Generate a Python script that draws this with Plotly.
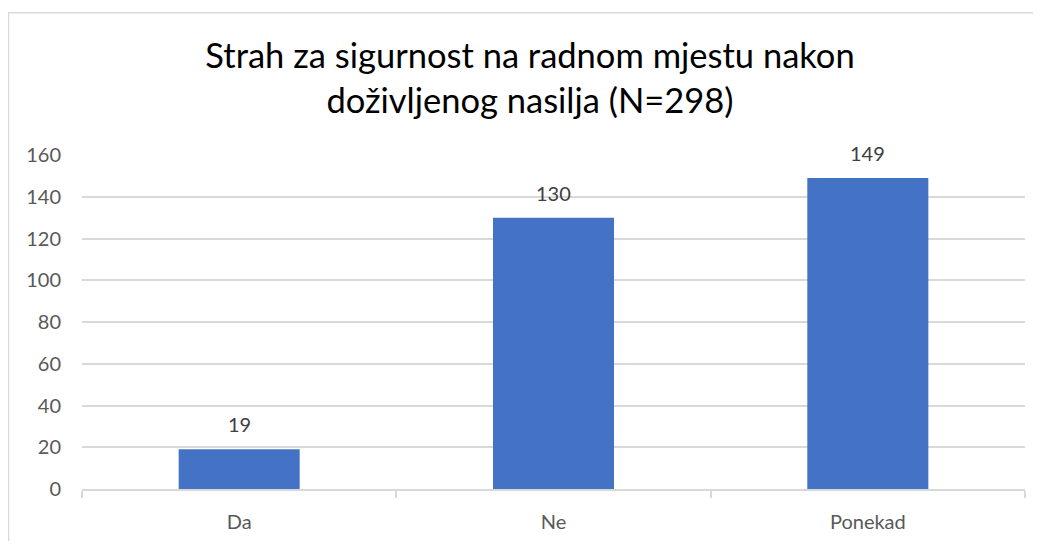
import plotly.graph_objects as go

categories = ["Da", "Ne", "Ponekad"]
values = [19, 130, 149]
y_ticks = [0, 20, 40, 60, 80, 100, 120, 140, 160]
title_text = "Strah za sigurnost na radnom mjestu nakon<br>doživljenog nasilja (N=298)"

# page has an 8px body margin; figure coordinates = screen - 8
W, H = 1025, 533
L, R, T, B = 74, 1017, 147, 486
pw, ph = R - L, B - T
FONT = "Lato, Open Sans, sans-serif"

fig = go.Figure()
fig.add_trace(go.Bar(
    x=categories, y=values, marker_color="#4472C4",
    marker_line_width=0, width=0.385, hoverinfo="skip",
))
for c, v in zip(categories, values):
    fig.add_annotation(x=c, y=v, text=str(v), showarrow=False, yshift=25,
                       font=dict(family=FONT, size=20, color="#404040"))

# outer chart border (cropped at right/bottom)
fig.add_shape(type="rect", xref="paper", yref="paper",
              x0=(0.5 - L) / pw, x1=(1100 - L) / pw,
              y0=(B - 600) / ph, y1=(B - 2.5) / ph,
              line=dict(color="#D9D9D9", width=1.5), fillcolor="rgba(0,0,0,0)", layer="below")

fig.update_layout(
    width=W, height=H,
    margin=dict(l=L, r=W - R, t=T, b=H - B, pad=0),
    paper_bgcolor="white", plot_bgcolor="white",
    title=dict(text=title_text, x=522 / W, xanchor="center",
               y=1 - 60 / H, yanchor="top",
               font=dict(family="Lato, sans-serif", size=34.5, color="#000000")),
    showlegend=False,
    font=dict(family=FONT, color="#595959"),
)
fig.update_xaxes(showgrid=False, showline=True, linecolor="#D9D9D9", linewidth=1.5,
                 ticks="outside", tickson="boundaries", ticklen=7, tickcolor="#D9D9D9",
                 tickwidth=1.5,
                 tickfont=dict(size=20, color="#595959"), ticklabelstandoff=14,
                 fixedrange=True)
fig.update_yaxes(range=[0, 160], tickvals=y_ticks, showgrid=True, gridcolor="#D9D9D9",
                 gridwidth=1.5, zeroline=False, showline=False, ticks="",
                 tickfont=dict(size=20, color="#595959"), ticklabelstandoff=20,
                 fixedrange=True)
fig.write_html("out.html")
